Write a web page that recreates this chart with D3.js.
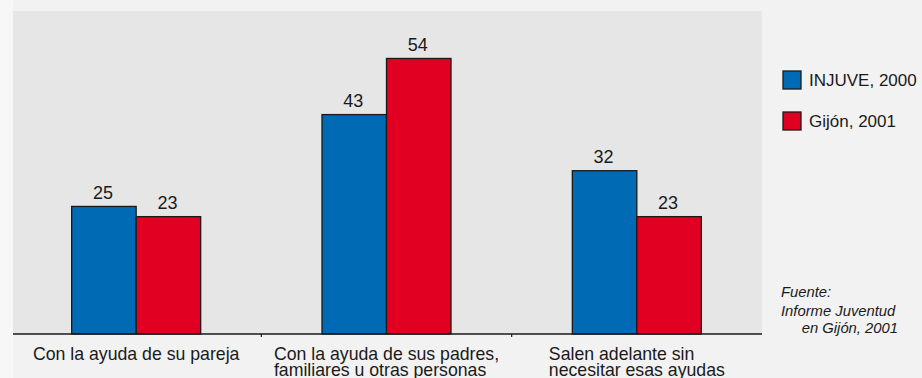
<!DOCTYPE html>
<html>
<head>
<meta charset="utf-8">
<script src="https://cdn.jsdelivr.net/npm/d3@7/dist/d3.min.js"></script>
<style>
  html, body { margin: 0; padding: 0; background: #f2f2f2; }
  svg { display: block; font-family: "Liberation Sans", Arial, sans-serif; }
</style>
</head>
<body>
<svg id="chart" width="922" height="378"></svg>
<script>
// Categories (each label split into its lines) and series values (%)
const categories = [
  ["Con la ayuda de su pareja"],
  ["Con la ayuda de sus padres,", "familiares u otras personas"],
  ["Salen adelante sin", "necesitar esas ayudas"]
];
const seriesNames = ["INJUVE, 2000", "Gijón, 2001"];
const injuve2000 = [25, 43, 32];
const gijon2001 = [23, 54, 23];
const seriesColors = ["#006ab4", "#e10022"];
const sourceLines = ["Fuente:", "Informe Juventud", "en Gijón, 2001"];

const svg = d3.select("#chart");
const W = 922, H = 378;
const plot = { left: 11, right: 762, top: 11, bottom: 334 };

// page background with a slightly lighter strip on the left edge
svg.append("rect").attr("x", 0).attr("y", 0).attr("width", W).attr("height", H).attr("fill", "#f2f2f2");
svg.append("rect").attr("x", 0).attr("y", 0).attr("width", 13).attr("height", H).attr("fill", "#f7f7f7");
// plot panel
svg.append("rect")
  .attr("x", 13).attr("y", plot.top)
  .attr("width", plot.right - 13).attr("height", plot.bottom - plot.top)
  .attr("fill", "#e6e6e6");

const keys = categories.map((c, i) => i);
const x = d3.scaleBand().domain(keys).range([plot.left, plot.right]).paddingInner(0).paddingOuter(0);
const y = d3.scaleLinear().domain([0, 63.3]).range([plot.bottom, plot.top]);
const barW = 64.5;
const xs = d3.scaleBand().domain([0, 1]).range([-barW, barW]).padding(0);

const series = [injuve2000, gijon2001];

const groups = svg.append("g").selectAll("g")
  .data(keys).join("g")
  .attr("transform", d => `translate(${x(d) + x.bandwidth() / 2},0)`);

groups.selectAll("rect")
  .data(d => series.map((s, si) => ({ si, v: s[d] })))
  .join("rect")
  .attr("x", d => xs(d.si))
  .attr("y", d => y(d.v))
  .attr("width", xs.bandwidth())
  .attr("height", d => y(0) - y(d.v))
  .attr("fill", d => seriesColors[d.si])
  .attr("stroke", "#1a1a1a")
  .attr("stroke-width", 1.3);

groups.selectAll("text.val")
  .data(d => series.map((s, si) => ({ si, v: s[d] })))
  .join("text")
  .attr("class", "val")
  .attr("x", d => xs(d.si) + xs.bandwidth() / 2 - 1)
  .attr("y", d => y(d.v) - 7.5)
  .attr("text-anchor", "middle")
  .attr("font-size", 18)
  .attr("fill", "#1a1a1a")
  .text(d => d.v);

// x axis line and ticks at category boundaries
const axis = d3.axisBottom(x).tickSize(0).tickFormat("");
const axisG = svg.append("g").attr("transform", `translate(0,${plot.bottom})`).call(axis);
axisG.select(".domain").attr("stroke", "#1a1a1a").attr("stroke-width", 1.5)
  .attr("d", `M13,0H${plot.right}`);
axisG.selectAll(".tick").remove();
axisG.selectAll("line.sep")
  .data(keys.slice(1)).join("line")
  .attr("class", "sep")
  .attr("x1", d => x(d)).attr("x2", d => x(d))
  .attr("y1", 0).attr("y2", 3)
  .attr("stroke", "#1a1a1a").attr("stroke-width", 1.2);

// category labels: left-aligned block, centred under its band
groups.each(function(d) {
  const g = d3.select(this);
  const lines = categories[d];
  const t = g.append("text")
    .attr("font-size", 17.7)
    .attr("fill", "#1a1a1a");
  const base = lines.length === 1 ? 359.5 : 360;
  lines.forEach((ln, i) => {
    t.append("tspan").attr("x", 0).attr("y", base + i * 15.5).text(ln);
  });
  let maxW = 0;
  t.selectAll("tspan").each(function() { maxW = Math.max(maxW, this.getComputedTextLength()); });
  t.selectAll("tspan").attr("x", -maxW / 2);
});

// legend
const legend = svg.append("g").attr("transform", "translate(783,71)");
const li = legend.selectAll("g").data(seriesNames).join("g")
  .attr("transform", (d, i) => `translate(0,${i * 41})`);
li.append("rect")
  .attr("width", 18).attr("height", 18)
  .attr("fill", (d, i) => seriesColors[i])
  .attr("stroke", "#1a1a1a").attr("stroke-width", 1.3);
li.append("text")
  .attr("x", 26).attr("y", 15)
  .attr("font-size", 17)
  .attr("fill", "#1a1a1a")
  .text(d => d);

// source note
const src = svg.append("g").attr("font-size", 14.8).attr("font-style", "italic").attr("fill", "#1a1a1a");
src.append("text").attr("x", 781).attr("y", 296.5).text(sourceLines[0]);
src.append("text").attr("x", 781).attr("y", 315.5).text(sourceLines[1]);
src.append("text").attr("x", 898).attr("y", 333.3).attr("text-anchor", "end").text(sourceLines[2]);
</script>
</body>
</html>
